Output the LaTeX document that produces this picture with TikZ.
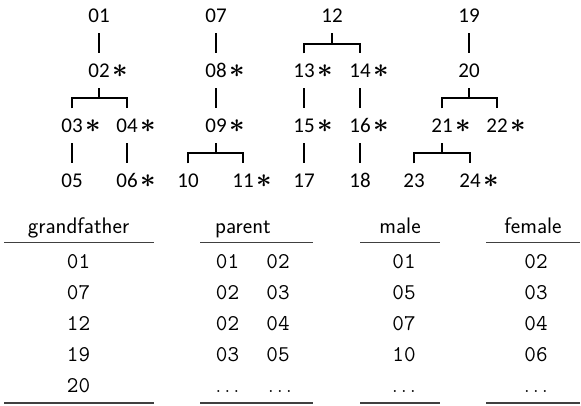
\documentclass[tikz,border=0pt]{standalone}
\usepackage{fontspec}
\newfontfamily\treefont{Carlito}
\usetikzlibrary{calc}
\begin{document}
\begin{tikzpicture}[x=1pt,y=-1pt,
  tn/.style={anchor=base,inner xsep=0pt,inner ysep=10.5pt,text height=13.3pt,text depth=0pt,
    font=\fontsize{21}{21}\selectfont\treefont},
  ln/.style={line width=2.3pt,black},
  th/.style={anchor=base,inner sep=0pt,font=\fontsize{22.5}{22.5}\selectfont\sffamily},
  tv/.style={anchor=base,inner sep=0pt,font=\fontsize{22.5}{22.5}\selectfont\ttfamily},
  rl/.style={line width=1.6pt,black!75}]
\useasboundingbox (0,0) rectangle (581,405);
\newcommand{\st}{\rlap{\kern2.5pt\scalebox{1.3}{\boldmath$\ast$}}}
% tree 1
\node[tn] (n01) at (99,22.7) {01};
\node[tn] (n02) at (99,77.3) {02\st};
\node[tn] (n03) at (72,132.3) {03\st};
\node[tn] (n04) at (127,132.3) {04\st};
\node[tn] (n05) at (72,187.3) {05};
\node[tn] (n06) at (127,187.3) {06\st};
\draw[ln] (n01.south) -- (n02.north);
\draw[ln] (n02.south) -- ++(0,10.3) coordinate (b1);
\draw[ln] (n03.north) |- (b1) -| (n04.north);
\draw[ln] (n03.south) -- (n05.north);
\draw[ln] (n04.south) -- (n06.north);
% tree 2
\node[tn] (n07) at (216,22.7) {07};
\node[tn] (n08) at (216,77.3) {08\st};
\node[tn] (n09) at (216,132.3) {09\st};
\node[tn] (n10) at (188,187.3) {10};
\node[tn] (n11) at (243,187.3) {11\st};
\draw[ln] (n07.south) -- (n08.north);
\draw[ln] (n08.south) -- (n09.north);
\draw[ln] (n09.south) -- ++(0,10.3) coordinate (b2);
\draw[ln] (n10.north) |- (b2) -| (n11.north);
% tree 3
\node[tn] (n12) at (332,22.7) {12};
\node[tn] (n13) at (304,77.3) {13\st};
\node[tn] (n14) at (360,77.3) {14\st};
\node[tn] (n15) at (304,132.3) {15\st};
\node[tn] (n16) at (360,132.3) {16\st};
\node[tn] (n17) at (304,187.3) {17};
\node[tn] (n18) at (360,187.3) {18};
\draw[ln] (n12.south) -- ++(0,10.3) coordinate (b3);
\draw[ln] (n13.north) |- (b3) -| (n14.north);
\draw[ln] (n13.south) -- (n15.north);
\draw[ln] (n14.south) -- (n16.north);
\draw[ln] (n15.south) -- (n17.north);
\draw[ln] (n16.south) -- (n18.north);
% tree 4
\node[tn] (n19) at (469,22.7) {19};
\node[tn] (n20) at (469,77.3) {20};
\node[tn] (n21) at (442,132.3) {21\st};
\node[tn] (n22) at (497,132.3) {22\st};
\node[tn] (n23) at (414,187.3) {23};
\node[tn] (n24) at (470,187.3) {24\st};
\draw[ln] (n19.south) -- (n20.north);
\draw[ln] (n20.south) -- ++(0,10.3) coordinate (b4);
\draw[ln] (n21.north) |- (b4) -| (n22.north);
\draw[ln] (n21.south) -- ++(0,10.3) coordinate (b5);
\draw[ln] (n23.north) |- (b5) -| (n24.north);
% table grandfather
\node[th] (hg) at (78.5,233.5) {grandfather};
\coordinate (g1) at (4,242.3); \coordinate (g2) at (154,242.3);
\coordinate (g3) at (4,403); \coordinate (g4) at (154,403);
\draw[rl] (g1) -- (g2); \draw[rl] (g3) -- (g4);
\node[tv] (ga) at (78.5,268.3) {01};
\node[tv] (gb) at (78.5,299.3) {07};
\node[tv] (gc) at (78.5,330.3) {12};
\node[tv] (gd) at (78.5,361.3) {19};
\node[tv] (ge) at (78.5,392.3) {20};
% table parent
\node[th,anchor=base west] (hp) at (215,233.5) {parent};
\coordinate (p1) at (200,242.3); \coordinate (p2) at (313,242.3);
\coordinate (p3) at (200,403); \coordinate (p4) at (313,403);
\draw[rl] (p1) -- (p2); \draw[rl] (p3) -- (p4);
\node[tv] (pa1) at (227.5,268.3) {01}; \node[tv] (pa2) at (278,268.3) {02};
\node[tv] (pb1) at (227.5,299.3) {02}; \node[tv] (pb2) at (278,299.3) {03};
\node[tv] (pc1) at (227.5,330.3) {02}; \node[tv] (pc2) at (278,330.3) {04};
\node[tv] (pd1) at (227.5,361.3) {03}; \node[tv] (pd2) at (278,361.3) {05};
\node[tv] (pe1) at (227.5,392.3) {$\ldots$}; \node[tv] (pe2) at (280,392.3) {$\ldots$};
% table male
\node[th] (hm) at (400,233.5) {male};
\coordinate (m1) at (360,242.3); \coordinate (m2) at (440,242.3);
\coordinate (m3) at (360,403); \coordinate (m4) at (440,403);
\draw[rl] (m1) -- (m2); \draw[rl] (m3) -- (m4);
\node[tv] (ma) at (404,268.3) {01};
\node[tv] (mb) at (404,299.3) {05};
\node[tv] (mc) at (404,330.3) {07};
\node[tv] (md) at (404,361.3) {10};
\node[tv] (me) at (404,392.3) {$\ldots$};
% table female
\node[th] (hf) at (533,233.5) {female};
\coordinate (f1) at (486,242.3); \coordinate (f2) at (580,242.3);
\coordinate (f3) at (486,403); \coordinate (f4) at (580,403);
\draw[rl] (f1) -- (f2); \draw[rl] (f3) -- (f4);
\node[tv] (fa) at (536,268.3) {02};
\node[tv] (fb) at (536,299.3) {03};
\node[tv] (fc) at (536,330.3) {04};
\node[tv] (fd) at (536,361.3) {06};
\node[tv] (fe) at (536,392.3) {$\ldots$};
\end{tikzpicture}
\end{document}
